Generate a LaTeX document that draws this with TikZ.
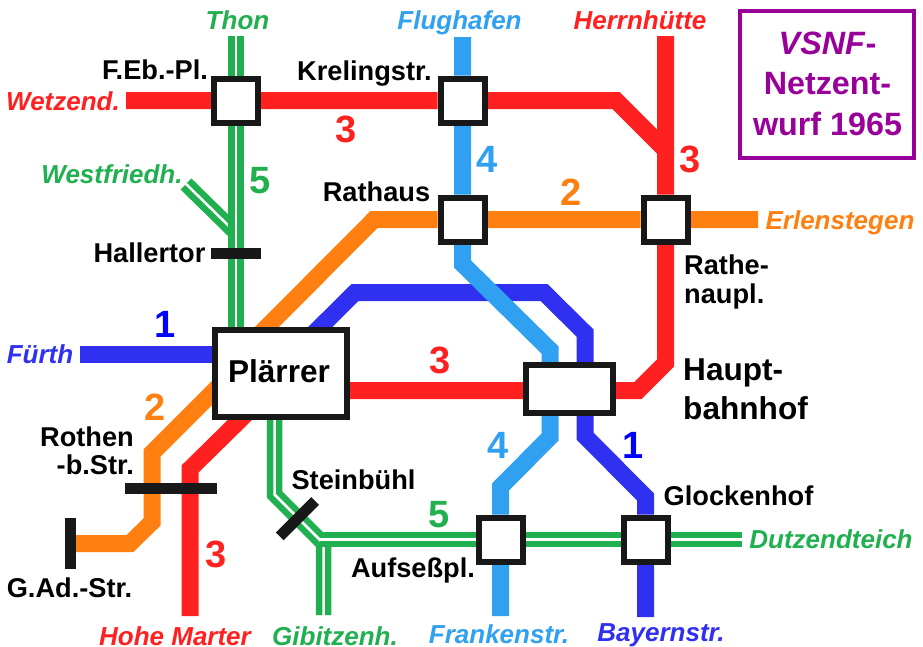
\documentclass[tikz,border=0pt]{standalone}
\usepackage{fontspec}
\setmainfont{Liberation Sans}
\usetikzlibrary{backgrounds}
\definecolor{cRed}{HTML}{FF2020}
\definecolor{cOrange}{HTML}{FF8010}
\definecolor{cBlue}{HTML}{3030F0}
\definecolor{cSky}{HTML}{30A0F0}
\definecolor{cGreen}{HTML}{20B050}
\definecolor{cBlack}{HTML}{181818}
\definecolor{cPurple}{HTML}{990099}
\newcommand{\fs}[1]{\fontsize{#1}{#1}\selectfont}
\tikzset{
  x=1pt,y=-1pt,
  stationbox/.style={draw=cBlack,fill=white,line width=6pt,minimum width=44pt,minimum height=44pt,inner sep=0pt,rectangle},
  stopbar/.style={fill=cBlack,inner sep=0pt,rectangle},
  rail/.style={line width=17pt,line join=miter,miter limit=10},
  railgreen/.style={line width=6.5pt,draw=cGreen,double=white,double distance=2.5pt,line join=miter,miter limit=10},
  lab/.style={inner sep=0pt,anchor=base,font=\fs{27.2}\bfseries,text=black},
  term/.style={inner sep=0pt,anchor=base,font=\fs{26}\bfseries\itshape},
  num/.style={inner sep=0pt,anchor=base,font=\fs{38}\bfseries},
}
\begin{document}
\begin{tikzpicture}
\useasboundingbox (0,0) rectangle (923,646);
% stations
\node[stationbox] (feb) at (236,100.5) {};
\node[stationbox] (krel) at (462.5,100.5) {};
\node[stationbox] (rath) at (462.5,219.5) {};
\node[stationbox] (rathe) at (665.5,219.5) {};
\node[stationbox,minimum width=132pt,minimum height=87pt] (pl) at (281,373.5) {};
\node[stationbox,minimum width=87pt,minimum height=48pt] (hbf) at (569.5,389) {};
\node[stationbox] (auf) at (500.5,539.5) {};
\node[stationbox] (glo) at (645.5,539.5) {};
\node[stopbar,minimum width=50pt,minimum height=11pt] (hal) at (236,253.5) {};
\node[stopbar,minimum width=92pt,minimum height=11pt] (rot) at (171,488.5) {};
\node[stopbar,minimum width=50pt,minimum height=11pt,rotate=45] (ste) at (297.5,518.7) {};
\node[stopbar,minimum width=11pt,minimum height=51pt] (gad) at (70.5,543.5) {};
% free ends and corners
\coordinate (eWetz) at (126,100.5);
\coordinate (eHerrn) at (665.5,36);
\coordinate (cR1) at (616,100.5);
\coordinate (cR2) at (665.5,150);
\coordinate (cR3) at (665.5,363);
\coordinate (cR4) at (638,390.5);
\coordinate (hR) at (570,390.5);
\coordinate (pRm) at (300,390.5);
\coordinate (eHohe) at (190,616);
\coordinate (cR5) at (190,469);
\coordinate (pR) at (250,410);
\coordinate (eErl) at (758,219.5);
\coordinate (cO1) at (374,219.5);
\coordinate (pO1) at (250,344);
\coordinate (pO2) at (225,380);
\coordinate (cO2) at (152,453);
\coordinate (cO3) at (152,522);
\coordinate (cO4) at (130,543.5);
\coordinate (eFue) at (80,354);
\coordinate (pF) at (240,354);
\coordinate (pB) at (300,347);
\coordinate (cB1) at (355,292.5);
\coordinate (cB2) at (544,292.5);
\coordinate (cB3) at (585,333);
\coordinate (hB) at (585,389);
\coordinate (cB4) at (585,436);
\coordinate (cB5) at (645.5,497);
\coordinate (eBay) at (645.5,617);
\coordinate (eFlu) at (462.5,37);
\coordinate (cS1) at (462.5,264);
\coordinate (cS2) at (550,350);
\coordinate (hS) at (550,389);
\coordinate (cS3) at (550,437);
\coordinate (cS4) at (500.5,487);
\coordinate (eFra) at (500.5,616);
\coordinate (eThon) at (236,36);
\coordinate (pGt) at (236,345);
\coordinate (eWest) at (186,184);
\coordinate (jWest) at (234,231);
\coordinate (pG) at (274.5,400);
\coordinate (cG1) at (274.5,494.5);
\coordinate (cG2) at (323.5,543.5);
\coordinate (eGib) at (323.5,615);
\coordinate (jG) at (320,539.5);
\coordinate (eDut) at (742,539.5);
\begin{pgfonlayer}{background}
\draw[railgreen] (eWest) -- (jWest);
\draw[railgreen] (eThon) -- (feb) -- (hal) -- (pGt);
\draw[railgreen] (pG) -- (cG1) -- (cG2) -- (eGib);
\draw[railgreen] (jG) -- (auf) -- (glo) -- (eDut);
\draw[rail,cOrange] (eErl) -- (rathe) -- (rath) -- (cO1) -- (pO1);
\draw[rail,cOrange] (pO2) -- (cO2) -- (cO3) -- (cO4) -- (gad);
\draw[rail,cBlue] (eFue) -- (pF);
\draw[rail,cBlue] (pB) -- (cB1) -- (cB2) -- (cB3) -- (hB) -- (cB4) -- (cB5) -- (glo) -- (eBay);
\draw[rail,cSky] (eFlu) -- (krel) -- (rath) -- (cS1) -- (cS2) -- (hS) -- (cS3) -- (cS4) -- (auf) -- (eFra);
\draw[rail,cRed] (eWetz) -- (feb) -- (krel) -- (cR1) -- (cR2);
\draw[rail,cRed] (eHerrn) -- (rathe) -- (cR3) -- (cR4) -- (hR) -- (pRm);
\draw[rail,cRed] (pR) -- (cR5) -- (eHohe);
\end{pgfonlayer}
% plain labels
\node[inner sep=0pt,font=\fs{31.6}\bfseries,anchor=base] (plt) at (279,382) {Plärrer};
\node[lab] (l1) at (155,79) {F.Eb.-Pl.};
\node[lab] (l2) at (364.5,80) {Krelingstr.};
\node[lab] (l3) at (376.5,201) {Rathaus};
\node[lab] (l4) at (149.5,262) {Hallertor};
\node[lab,align=right,anchor=base east] (l5) at (134,474) {Rothen\\-b.Str.};
\node[lab] (l6) at (69.5,597) {G.Ad.-Str.};
\node[lab] (l7) at (353.5,489) {Steinbühl};
\node[lab] (l8) at (413,577) {Aufseßpl.};
\node[lab] (l9) at (738.5,505) {Glockenhof};
\node[lab,align=left,anchor=base west] (l10) at (684,303) {Rathe-\\[1.8pt]naupl.};
\node[lab,font=\fs{31.6}\bfseries,align=left,anchor=base west] (l11) at (683,419) {Haupt-\\[7.4pt]bahnhof};
% terminus labels
\node[term,text=cGreen] (t1) at (237.5,29) {Thon};
\node[term,text=cSky] (t2) at (459.5,29) {Flughafen};
\node[term,text=cRed] (t3) at (640,29) {Herrnhütte};
\node[term,text=cRed] (t4) at (63,110) {Wetzend.};
\node[term,text=cGreen] (t5) at (112,183) {Westfriedh.};
\node[term,text=cOrange] (t6) at (840,229) {Erlenstegen};
\node[term,text=cBlue] (t7) at (40,363) {Fürth};
\node[term,text=cRed] (t8) at (175,645) {Hohe Marter};
\node[term,text=cGreen] (t9) at (335,645) {Gibitzenh.};
\node[term,text=cSky] (t10) at (499,643) {Frankenstr.};
\node[term,text=cBlue] (t11) at (661,641) {Bayernstr.};
\node[term,text=cGreen] (t12) at (831,548) {Dutzendteich};
% line numbers
\node[num,text=cRed] (n1) at (346,142.5) {3};
\node[num,text=cGreen] (n2) at (260,193) {5};
\node[num,text=cSky] (n3) at (487,172) {4};
\node[num,text=cOrange] (n4) at (571,205) {2};
\node[num,text=cRed] (n5) at (690,172) {3};
\node[num,text=blue] (n6) at (165,337) {1};
\node[num,text=cRed] (n7) at (440,373) {3};
\node[num,text=cOrange] (n8) at (155,420) {2};
\node[num,text=cSky] (n9) at (498,458) {4};
\node[num,text=blue] (n10) at (633,458) {1};
\node[num,text=cGreen] (n11) at (439,527) {5};
\node[num,text=cRed] (n12) at (216,567) {3};
% title
\node[draw=cPurple,line width=4.5pt,minimum width=174pt,minimum height=147pt,inner sep=0pt] (tb) at (827,84.5) {};
\node[inner sep=0pt,anchor=base,align=center,text=cPurple,font=\fs{32.3}\bfseries] (tt) at (827.5,135) {\textit{VSNF}-\\[8.2pt]Netzent-\\[8.2pt]wurf 1965};
\end{tikzpicture}
\end{document}
